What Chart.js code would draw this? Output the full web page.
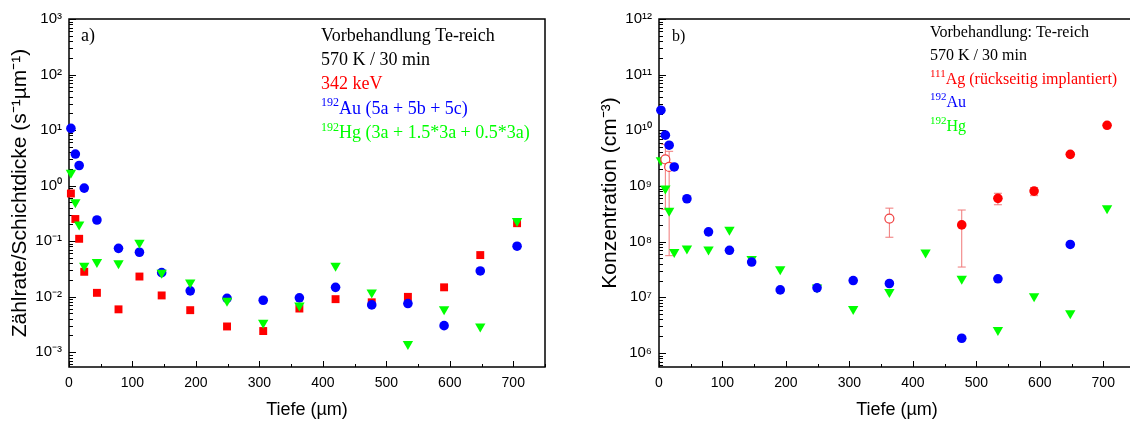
<!DOCTYPE html>
<html>
<head>
<meta charset="utf-8">
<script src="https://cdn.jsdelivr.net/npm/chart.js@4.4.1/dist/chart.umd.min.js"></script>
<style>
  html, body { margin: 0; padding: 0; background: #fff; }
  body { width: 1130px; height: 421px; overflow: hidden; position: relative; }
  .panel { position: absolute; top: 0; width: 570px; height: 421px; }
  #wrapA { left: 0; }
  #wrapB { left: 590px; }
</style>
</head>
<body>
<div class="panel" id="wrapA"><canvas id="chartA" width="570" height="421"></canvas></div>
<div class="panel" id="wrapB"><canvas id="chartB" width="570" height="421"></canvas></div>
<script>
// depth of each layer (µm)
const depth = [3, 10, 16, 24, 44, 78, 111, 146, 191, 249, 306, 363, 420, 477, 534, 591, 648, 706];

// a) count rate / layer thickness (1/s/µm)
const rate342 = [0.72, 0.25, 0.11, 0.028, 0.0117, 0.0059, 0.023, 0.0105, 0.0057, 0.0029, 0.0024, 0.0061, 0.009, 0.0079, 0.0099, 0.0147, 0.056, 0.21];
const rateAu  = [10.7, 3.7, 2.3, 0.9, 0.24, 0.074, 0.063, 0.027, 0.0127, 0.0093, 0.0086, 0.0095, 0.0147, 0.0071, 0.0075, 0.003, 0.029, 0.081];
const rateHg  = [1.7, 0.5, 0.2, 0.036, 0.042, 0.04, 0.093, 0.027, 0.018, 0.0084, 0.0034, 0.0069, 0.036, 0.0119, 0.0014, 0.0059, 0.0029, 0.23];

// b) concentration (cm^-3)
const auDepthB = [3, 10, 16, 24, 44, 78, 111, 146, 191, 249, 306, 363, 477, 534, 648];
const concAu = [2.3e10, 8.2e9, 5.4e9, 2.2e9, 5.9e8, 1.5e8, 7e7, 4.3e7, 1.36e7, 1.48e7, 2e7, 1.77e7, 1.84e6, 2.15e7, 8.9e7];
const concHg = [2.9e9, 9e8, 3.6e8, 6.5e7, 7.5e7, 7.2e7, 1.64e8, 4.9e7, 3.2e7, 1.5e7, 6.2e6, 1.24e7, 6.4e7, 2.15e7, 2.6e6, 1.05e7, 5.2e6, 4e8];
const agDepth = [477, 534, 591, 648, 706];
const concAg  = [2.0e8, 6.0e8, 8.1e8, 3.7e9, 1.23e10];
const agLow   = [3.5e7, 4.6e8, 6.7e8, 3.4e9, 1.17e10];
const agHigh  = [3.7e8, 7.4e8, 9.4e8, 4.0e9, 1.3e10];
const agOpenDepth = [10, 16, 363];
const concAgOpen  = [3.0e9, 2.2e9, 2.6e8];
const agOpenLow   = [3.8e8, 5.6e7, 1.2e8];
const agOpenHigh  = [5.6e9, 4.2e9, 4.0e8];

// axes
const xTicks = [0, 100, 200, 300, 400, 500, 600, 700];
const decadesA = [1e-3, 1e-2, 1e-1, 1, 10, 100, 1000];
const decadesB = [1e6, 1e7, 1e8, 1e9, 1e10, 1e11, 1e12];
const yMinA = 5.4e-4, yMaxA = 1e3;
const yMinB = 5.6e5, yMaxB = 1e12;

const RED = '#ff0000', BLUE = '#0000ff', GREEN = '#00ff00', BAR = '#f07878';
const sans = '"Liberation Sans", Arial, sans-serif';
const serif = '"Liberation Serif", "Times New Roman", serif';

const notesA = [
  [['Vorbehandlung Te-reich', '#000']],
  [['570 K / 30 min', '#000']],
  [['342 keV', RED]],
  [['192', BLUE, true], ['Au (5a + 5b + 5c)', BLUE]],
  [['192', GREEN, true], ['Hg (3a + 1.5*3a + 0.5*3a)', GREEN]]
];
const notesB = [
  [['Vorbehandlung: Te-reich', '#000']],
  [['570 K / 30 min', '#000']],
  [['111', RED, true], ['Ag (rückseitig implantiert)', RED]],
  [['192', BLUE, true], ['Au', BLUE]],
  [['192', GREEN, true], ['Hg', GREEN]]
];

const SUP = {'0':'⁰','1':'¹','2':'²','3':'³','4':'⁴','5':'⁵','6':'⁶','7':'⁷','8':'⁸','9':'⁹','-':'⁻'};
const sup = n => String(n).split('').map(c => SUP[c]).join('');

const pts = (xs, ys) => xs.map((x, i) => ({x, y: ys[i]}));
// error bars as broken line segments, caps come from the 'line' point style
const bars = (xs, lo, hi) => {
  const out = [];
  xs.forEach((x, i) => out.push({x, y: lo[i]}, {x, y: hi[i]}, {x, y: null}));
  return out;
};

// frame with inward tick marks
const framePlugin = {
  id: 'frame',
  beforeDatasetsDraw(chart) {
    const {ctx, chartArea: a, scales: {x, y}} = chart;
    ctx.save();
    ctx.strokeStyle = '#000';
    ctx.lineWidth = 1;
    ctx.beginPath();
    for (let v = 0; v <= x.max; v += 50) {
      const px = Math.round(x.getPixelForValue(v)) + 0.5;
      ctx.moveTo(px, a.bottom);
      ctx.lineTo(px, a.bottom - (v % 100 === 0 ? 6 : 3));
    }
    const e0 = Math.floor(Math.log10(y.min)), e1 = Math.ceil(Math.log10(y.max));
    for (let e = e0; e <= e1; e++) {
      for (let k = 1; k <= 9; k++) {
        const v = k * Math.pow(10, e);
        if (v < y.min * 0.999 || v > y.max * 1.001) continue;
        const py = Math.round(y.getPixelForValue(v)) + 0.5;
        ctx.moveTo(a.left, py);
        ctx.lineTo(a.left + (k === 1 ? 7 : 4), py);
      }
    }
    ctx.stroke();
    ctx.lineWidth = 1.5;
    ctx.strokeRect(a.left, a.top, a.right - a.left, a.bottom - a.top);
    ctx.restore();
  }
};

function makeNotes(cfg) {
  return {
    id: 'notes',
    afterDraw(chart) {
      const {ctx, chartArea: a} = chart;
      ctx.save();
      ctx.textAlign = 'left';
      ctx.textBaseline = 'alphabetic';
      ctx.fillStyle = '#000';
      ctx.font = cfg.size + 'px ' + serif;
      ctx.fillText(cfg.tag, a.left + cfg.tagX, a.top + cfg.tagY);
      cfg.lines.forEach((line, i) => {
        let px = a.left + cfg.x;
        const py = a.top + cfg.y + i * cfg.step;
        line.forEach(([t, c, isSup]) => {
          ctx.fillStyle = c;
          ctx.font = (isSup ? Math.round(cfg.size * 0.68) : cfg.size) + 'px ' + serif;
          ctx.fillText(t, px, isSup ? py - cfg.size * 0.42 : py);
          px += ctx.measureText(t).width;
        });
      });
      ctx.restore();
    }
  };
}

function axisX() {
  return {
    type: 'linear', min: 0, max: 750,
    afterBuildTicks: s => { s.ticks = xTicks.map(v => ({value: v})); },
    afterFit: s => { s.height = 54; },
    grid: {display: false, drawTicks: false},
    border: {display: false},
    ticks: {color: '#000', font: {family: sans, size: 14}, padding: 8, maxRotation: 0, autoSkip: false},
    title: {display: true, text: 'Tiefe (µm)', color: '#000', font: {family: sans, size: 18}, padding: {top: 0, bottom: 0}}
  };
}

function axisY(min, max, decades, text) {
  return {
    type: 'logarithmic', min, max,
    afterBuildTicks: s => { s.ticks = decades.map(v => ({value: v})); },
    afterFit: s => { s.width = 69; },
    grid: {display: false, drawTicks: false},
    border: {display: false},
    ticks: {color: '#000', font: {family: sans, size: 15}, padding: 7, autoSkip: false,
            callback: v => '10' + sup(Math.round(Math.log10(v)))},
    title: {display: true, text, color: '#000', font: {family: sans, size: 21}, padding: {top: 8, bottom: 0}}
  };
}

const common = {
  responsive: false,
  animation: false,
  events: [],
  layout: {padding: {left: 0, right: 25, top: 19, bottom: 0}},
  plugins: {legend: {display: false}, tooltip: {enabled: false}}
};

new Chart(document.getElementById('chartA'), {
  type: 'scatter',
  data: {
    datasets: [
      {label: '342 keV', data: pts(depth, rate342), pointStyle: 'rect', pointRadius: 5.6,
       pointBackgroundColor: RED, pointBorderWidth: 0, clip: false, order: 3},
      {label: '192Au', data: pts(depth, rateAu), pointStyle: 'circle', pointRadius: 4.8,
       pointBackgroundColor: BLUE, pointBorderWidth: 0, clip: false, order: 2},
      {label: '192Hg', data: pts(depth, rateHg), pointStyle: 'triangle', pointRotation: 180, pointRadius: 6,
       pointBackgroundColor: GREEN, pointBorderWidth: 0, clip: false, order: 1}
    ]
  },
  options: {
    ...common,
    scales: {
      x: axisX(),
      y: axisY(yMinA, yMaxA, decadesA, 'Zählrate/Schichtdicke (s⁻¹µm⁻¹)')
    }
  },
  plugins: [framePlugin, makeNotes({lines: notesA, size: 18, x: 252, y: 21.5, step: 24.4, tag: 'a)', tagX: 12, tagY: 21.5})]
});

new Chart(document.getElementById('chartB'), {
  type: 'scatter',
  data: {
    datasets: [
      {label: 'Ag err', data: bars(agDepth, agLow, agHigh), showLine: true, spanGaps: false,
       borderColor: BAR, borderWidth: 1, pointStyle: 'line', pointRadius: 4, pointBorderColor: BAR,
       pointBorderWidth: 1, clip: false, order: 6},
      {label: 'Ag open err', data: bars(agOpenDepth, agOpenLow, agOpenHigh), showLine: true, spanGaps: false,
       borderColor: BAR, borderWidth: 1, pointStyle: 'line', pointRadius: 4, pointBorderColor: BAR,
       pointBorderWidth: 1, clip: false, order: 5},
      {label: '192Hg', data: pts(depth, concHg), pointStyle: 'triangle', pointRotation: 180, pointRadius: 6,
       pointBackgroundColor: GREEN, pointBorderWidth: 0, clip: false, order: 4},
      {label: '111Ag', data: pts(agDepth, concAg), pointStyle: 'circle', pointRadius: 4.8,
       pointBackgroundColor: RED, pointBorderWidth: 0, clip: false, order: 3},
      {label: '111Ag open', data: pts(agOpenDepth, concAgOpen), pointStyle: 'circle', pointRadius: 4.5,
       pointBackgroundColor: '#fff', pointBorderColor: '#f04040', pointBorderWidth: 1.2, clip: false, order: 2},
      {label: '192Au', data: pts(auDepthB, concAu), pointStyle: 'circle', pointRadius: 4.8,
       pointBackgroundColor: BLUE, pointBorderWidth: 0, clip: false, order: 1}
    ]
  },
  options: {
    ...common,
    scales: {
      x: axisX(),
      y: axisY(yMinB, yMaxB, decadesB, 'Konzentration (cm⁻³)')
    }
  },
  plugins: [framePlugin, makeNotes({lines: notesB, size: 16, x: 271, y: 17.5, step: 23.5, tag: 'b)', tagX: 13, tagY: 22})]
});
</script>
</body>
</html>
